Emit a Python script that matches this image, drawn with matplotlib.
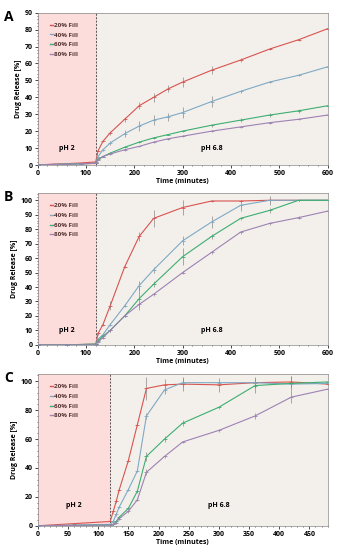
import matplotlib
matplotlib.use("Agg")
import matplotlib.pyplot as plt
from matplotlib.ticker import MultipleLocator
from matplotlib.lines import Line2D

plt.rcParams['font.family'] = ['Open Sans', 'DejaVu Sans']
plt.rcParams['font.weight'] = 'bold'

labels = ["20% Fill", "40% Fill", "60% Fill", "80% Fill"]
colors = ["#d9534f", "#7fa9c4", "#3dae72", "#9d82b3"]

# Panel A
tA = [0, 30, 60, 90, 120, 125, 135, 150, 180, 210, 240, 270, 300, 360, 420, 480, 540, 600]
A20 = [0, 0.5, 0.8, 1.2, 1.8, 8.5, 14, 19, 27, 35, 40, 45, 49, 56, 62, 68.5, 74, 80.5]
A40 = [0, 0.3, 0.5, 0.7, 1.0, 5, 9, 13, 18.5, 23, 26.5, 28.5, 31, 37.5, 43.5, 49, 53, 58]
A60 = [0, 0.3, 0.5, 0.7, 1.0, 3.5, 5, 7, 10.5, 13.5, 16, 18, 20, 23.5, 26.5, 29.5, 32, 35]
A80 = [0, 0.3, 0.5, 0.7, 1.0, 3, 5, 6.5, 9, 11, 13.5, 15.5, 17, 20, 22.5, 25, 27, 29.5]
eA20 = [0, 0, 0, 0, 0, 0.5, 0.5, 1, 1.5, 2, 2.5, 2, 3, 2.5, 1, 0.5, 0.5, 0.5]
eA40 = [0, 0, 0, 0, 0, 0.5, 0.5, 1, 2, 3, 3, 2.5, 3.5, 3, 1, 0.5, 0.5, 0.5]
eA60 = [0, 0, 0, 0, 0, 0.3, 0.3, 0.5, 0.5, 0.5, 0.5, 0.5, 0.5, 1, 1, 1, 1, 0.5]
eA80 = [0, 0, 0, 0, 0, 0.3, 0.3, 0.5, 0.5, 0.5, 0.5, 0.5, 0.5, 0.5, 0.5, 0.5, 0.5, 0.5]

# Panel B
tB = [0, 60, 120, 125, 135, 150, 180, 210, 240, 300, 360, 420, 480, 540, 600]
B20 = [0, 0, 0.5, 8, 14, 27, 54, 75, 87.5, 95, 99.5, 99.5, 100, 100, 100]
B40 = [0, 0, 0.5, 4, 7, 14, 27, 41, 52, 72, 85, 96.5, 100, 100, 100]
B60 = [0, 0, 0.5, 3, 6, 10, 20, 32, 42, 61, 75, 87.5, 93, 100, 100]
B80 = [0, 0, 0, 2, 5, 10, 20, 28, 35, 50, 64, 78, 84, 88, 92.5]
eB20 = [0, 0, 0, 1, 1, 3, 1, 3, 6, 5, 1, 1, 1.5, 0.5, 0.5]
eB40 = [0, 0, 0, 1, 1, 1, 1, 3, 2, 3, 4, 4, 3, 0.5, 0.5]
eB60 = [0, 0, 0, 1, 1, 1, 1, 8, 2, 6, 2, 1, 2, 0.5, 0.5]
eB80 = [0, 0, 0, 1, 1, 1, 1, 1, 1, 1, 1, 1, 1, 1, 1]

# Panel C
tC = [0, 60, 120, 125, 130, 135, 150, 165, 180, 210, 240, 300, 360, 420, 480]
C20 = [0, 1.5, 3, 10, 17, 25, 45, 70, 95, 97.5, 98, 97.5, 99, 99.5, 98]
C40 = [0, 0.5, 1, 3, 8, 13, 25, 38, 76, 94, 99, 99, 99, 98, 98.5]
C60 = [0, 0.3, 0.5, 1, 3, 6, 12, 24, 48, 60, 71, 82, 97, 98.5, 99.5]
C80 = [0, 0.3, 0.5, 1, 2, 5, 10, 18, 37, 48, 58, 66, 76, 89, 94.5]
eC20 = [0, 0.5, 0.5, 1, 1, 1, 1, 1, 8, 4, 5, 5, 4, 4, 1]
eC40 = [0, 0.5, 0.5, 1, 1, 1, 1, 1, 2, 3, 3, 1, 1, 1, 1]
eC60 = [0, 0.5, 0.5, 1, 1, 1, 1, 1, 3, 2, 2, 1, 5, 5, 1]
eC80 = [0, 0.5, 0.5, 1, 1, 1, 1, 1, 2, 1, 1, 1, 2, 4, 1]

panels = [
    ("A", tA, [A20, A40, A60, A80], [eA20, eA40, eA60, eA80], (0, 600), (0, 90), 100, 10, 20, 2,
     [0.112, 0.700, 0.860, 0.277], (60, 10), (360, 10)),
    ("B", tB, [B20, B40, B60, B80], [eB20, eB40, eB60, eB80], (0, 600), (0, 105), 100, 10, 20, 2,
     [0.112, 0.373, 0.860, 0.276], (60, 10), (360, 10)),
    ("C", tC, [C20, C40, C60, C80], [eC20, eC40, eC60, eC80], (0, 480), (0, 105), 50, 20, 10, 4,
     [0.112, 0.044, 0.860, 0.276], (60, 14), (300, 14)),
]

fig = plt.figure(figsize=(3.37, 5.5), dpi=100)
for (lab, t, ys, es, xl, yl, xmaj, ymaj, xmin, ymin, pos, p2, p68) in panels:
    ax = fig.add_axes(pos)
    ax.set_facecolor("#f3f0ec")
    ax.axvspan(0, 120, color="#fddcdc", zorder=0)
    ax.axvline(120, color="#555555", ls=(0, (2, 1.5)), lw=0.7, zorder=1)
    handles = []
    for y, e, c, l in zip(ys, es, colors, labels):
        ax.errorbar(t, y, yerr=e, color=c, lw=0.8, elinewidth=0.5, ecolor="#888888",
                    capsize=0, marker='_', ms=2.5, mew=0.6, zorder=3)
        handles.append(Line2D([], [], color=c, lw=1.0, label=l))
    ax.set_xlim(*xl)
    ax.set_ylim(*yl)
    ax.xaxis.set_major_locator(MultipleLocator(xmaj))
    ax.xaxis.set_minor_locator(MultipleLocator(xmin))
    ax.yaxis.set_major_locator(MultipleLocator(ymaj))
    ax.yaxis.set_minor_locator(MultipleLocator(ymin))
    ax.tick_params(axis='both', which='major', labelsize=5, length=2, width=0.5, pad=1.5,
                   direction='out')
    ax.tick_params(axis='both', which='minor', length=1, width=0.4, direction='out')
    for tl in ax.get_xticklabels() + ax.get_yticklabels():
        tl.set_fontweight('bold')
    for s in ax.spines.values():
        s.set_linewidth(0.5)
        s.set_color("#888888")
    ax.set_xlabel("Time (minutes)", fontsize=5, fontweight='bold', labelpad=1)
    ax.set_ylabel("Drug Release [%]", fontsize=5, fontweight='bold', labelpad=2)
    ax.text(p2[0], p2[1], "pH 2", fontsize=5, fontweight='bold', ha='center', va='center')
    ax.text(p68[0], p68[1], "pH 6.8", fontsize=5, fontweight='bold', ha='center', va='center')
    leg = ax.legend(handles=handles, loc='upper left', bbox_to_anchor=(0.03, 0.96),
                    frameon=False, fontsize=4.5, handlelength=0.4, handletextpad=0.2,
                    labelspacing=0.7, borderaxespad=0.2)
    for txt in leg.get_texts():
        txt.set_fontweight('bold')
        txt.set_color("#553333")
    fig.text(0.012, pos[1] + pos[3] + 0.005, lab, fontsize=10, fontweight='bold',
             ha='left', va='top')

fig.savefig("out.png", dpi=100)
